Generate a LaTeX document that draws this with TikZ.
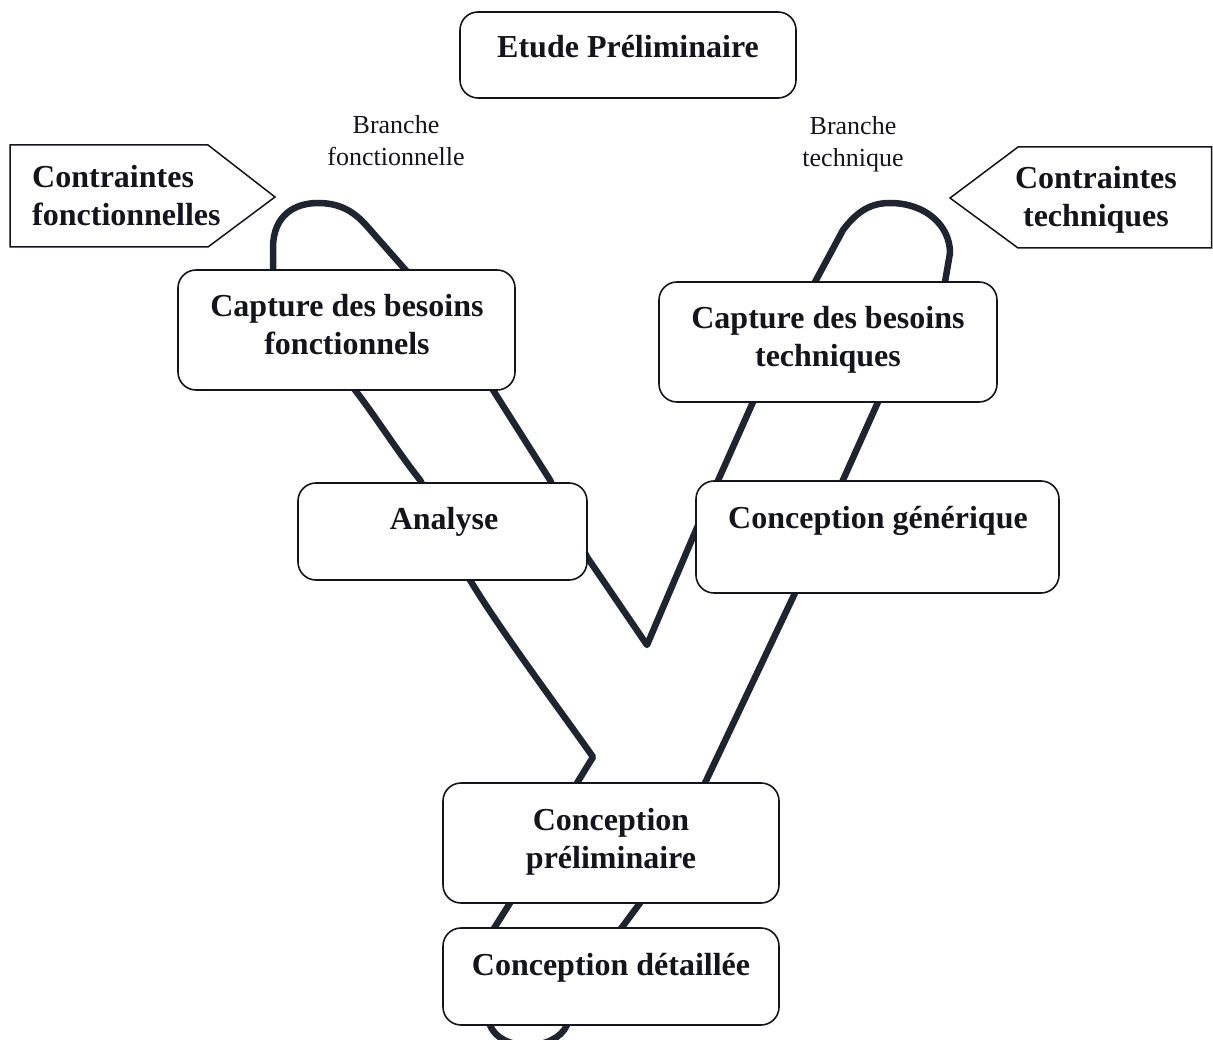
\documentclass[tikz,border=0pt]{standalone}
\usepackage{fontspec}
\setmainfont{Liberation Serif}
\definecolor{ydark}{RGB}{30,36,48}
\definecolor{ink}{RGB}{20,20,28}
\begin{document}
\begin{tikzpicture}[x=1pt,y=-1pt,
  box/.style={draw=ink, line width=1.6pt, rounded corners=18pt, fill=white, inner sep=0pt, rectangle},
  bl/.style={font=\fontsize{32}{38}\selectfont\bfseries, align=center, text=ink, inner sep=0pt},
  br/.style={font=\fontsize{26}{32}\selectfont, align=center, text=ink, inner sep=0pt},
  yline/.style={line width=6.5pt, draw=ydark, line join=round, line cap=round},
  penta/.style={draw=ink, line width=1.5pt, fill=white, line join=miter}]
\useasboundingbox (0,0) rectangle (1213,1040);
\begin{scope}
\clip (0,0) rectangle (1213,1040);
% thick Y outline
\draw[yline] (273,275) -- (273,248) .. controls (273,215) and (295,203) .. (318,203)
  .. controls (338,203) and (352,210) .. (365,224) -- (410,275) -- (493,390) -- (550,480)
  -- (587,557) -- (647,645) -- (696,530) -- (753,402) -- (815,282) -- (843,230)
  .. controls (858,210) and (872,203) .. (890,203) .. controls (925,203) and (950,225) .. (950,253)
  -- (945,282) -- (878,402) -- (843,480) -- (795,593) -- (705,783) -- (640,903) -- (620,930)
  -- (567,1025) .. controls (555,1052) and (500,1052) .. (490,1025) -- (493,930) -- (510,903)
  -- (577,783) -- (593,757) .. controls (560,710) and (500,630) .. (470,580) -- (420,480)
  .. controls (395,448) and (378,420) .. (355,390) -- cycle;
% pentagons
\draw[penta] (10,145) -- (208,145) -- (275,197) -- (208,247) -- (10,247) -- cycle;
\draw[penta] (1211.5,147) -- (1018,147) -- (950,198) -- (1018,248) -- (1211.5,248) -- cycle;
\end{scope}
\node[bl, anchor=west, align=left] (cf) at (32,195.5) {Contraintes\\fonctionnelles};
\node[bl] (ct) at (1096,199.5) {Contraintes\\techniques};
% boxes
\node[box, minimum width=336pt, minimum height=86pt] (etude) at (628,55) {};
\node[bl] (etude-t) at (628,47) {Etude Préliminaire};
\node[box, minimum width=337pt, minimum height=120pt] (cbf) at (346.5,330) {};
\node[bl] (cbf-t) at (347,325) {Capture des besoins\\fonctionnels};
\node[box, minimum width=338pt, minimum height=120pt] (cbt) at (828,342) {};
\node[bl] (cbt-t) at (828,340) {Capture des besoins\\techniques};
\node[box, minimum width=289pt, minimum height=97pt] (ana) at (442.5,531.5) {};
\node[bl] (ana-t) at (444,522) {Analyse};
\node[box, minimum width=363pt, minimum height=112pt] (gen) at (877.5,537) {};
\node[bl] (gen-t) at (878,521) {Conception générique};
\node[box, minimum width=336pt, minimum height=120pt] (cp) at (611,843) {};
\node[bl] (cp-t) at (611,842) {Conception\\préliminaire};
\node[box, minimum width=336pt, minimum height=97pt] (cd) at (611,976.5) {};
\node[bl] (cd-t) at (611,968) {Conception détaillée};
% branch labels
\node[br] (bf) at (396,141) {Branche\\fonctionnelle};
\node[br] (bt) at (853,144) {Branche\\technique};
\end{tikzpicture}
\end{document}
